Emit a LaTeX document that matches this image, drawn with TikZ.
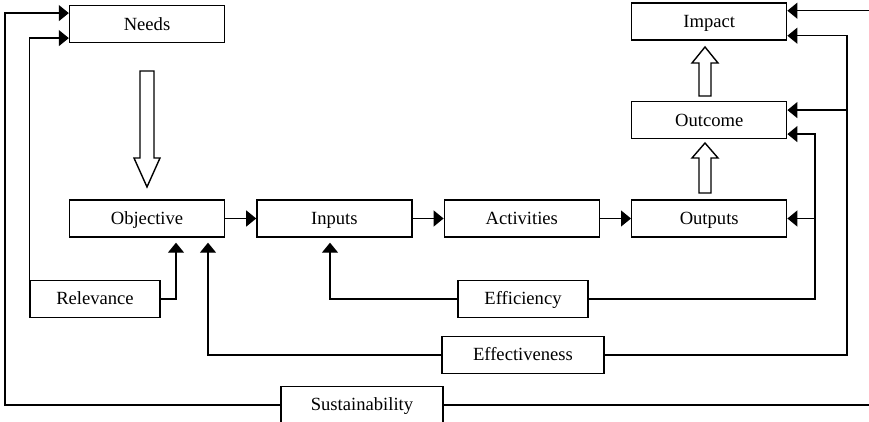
\documentclass[tikz,border=0pt]{standalone}
\usepackage{fontspec}
\setmainfont{Liberation Serif}
\newfontfamily\boxfont{Liberation Serif}
\usetikzlibrary{arrows.meta,positioning}

\begin{document}
\begin{tikzpicture}[x=0.5pt,y=-0.5pt,font=\boxfont\fontsize{9.3}{11}\selectfont,
  >={Triangle[length=5pt,width=8pt]},
  box/.style={draw,line width=0.7pt,minimum width=77.5pt,minimum height=18.5pt,inner sep=0pt,
              text height=8pt,text depth=2pt},
  small/.style={box,minimum width=65pt},
  wide/.style={box,minimum width=81pt},
  conn/.style={->,line width=0.65pt},
  hollow/.style={draw,line width=0.7pt,fill=white}]
  \useasboundingbox (0,0) rectangle (869,422);

  % main chain
  \node[box] (objective) at (147,218.5) {Objective};
  \node[box,right=15.5pt of objective] (inputs) {Inputs};
  \node[box,right=15.5pt of inputs] (activities) {Activities};
  \node[box,right=15.5pt of activities] (outputs) {Outputs};
  \node[box,above=30pt of outputs] (outcome) {Outcome};
  \node[box,above=30pt of outcome] (impact) {Impact};
  \node[box,above=78pt of objective] (needs) {Needs};

  % criteria
  \node[small] (relevance) at (95,299) {Relevance};
  \node[small] (efficiency) at (523,299) {Efficiency};
  \node[wide] (effectiveness) at (523,355) {Effectiveness};
  \node[wide] (sustainability) at (362,405) {Sustainability};

  % hollow arrows
  \draw[hollow] (140,71) -- (154,71) -- (154,158) -- (160,158) -- (147,187) -- (134,158) -- (140,158) -- cycle;
  \draw[hollow] (699,96) -- (699,63) -- (692,63) -- (705,47) -- (718,63) -- (711,63) -- (711,96) -- cycle;
  \draw[hollow] (699,193) -- (699,158) -- (692,158) -- (705,143) -- (718,158) -- (711,158) -- (711,193) -- cycle;

  \draw[conn] (objective) -- (inputs);
  \draw[conn] (inputs) -- (activities);
  \draw[conn] (activities) -- (outputs);

  \coordinate (lft) at (5,0);
  \coordinate (rgtA) at (815,0);
  \coordinate (rgtB) at (847,0);
  \coordinate (edge) at (878,0);
  \coordinate (oc) at ([yshift=5pt]outcome.east);

  \draw[conn] (sustainability.west) -- (sustainability.west -| lft) |- ([yshift=5.5pt]needs.west);
  \draw[conn] (relevance.north west) |- ([yshift=-7pt]needs.west);
  \draw[conn] (relevance.east) -| ([xshift=14.5pt,yshift=-2.5pt]objective.south);
  \draw[conn] (effectiveness.west) -| ([xshift=30.5pt,yshift=-2.5pt]objective.south);
  \draw[conn] (efficiency.west) -| ([xshift=-2.2pt,yshift=-2.5pt]inputs.south);
  \draw[conn] (efficiency.east) -- (efficiency.east -| rgtA) |- ([yshift=-7pt]outcome.east);
  \draw[conn] (outputs.east -| rgtA) -- (outputs.east);
  \draw[conn] (effectiveness.east) -- (effectiveness.east -| rgtB) |- ([yshift=-7pt]impact.east);
  \draw[conn] (oc -| rgtB) -- (oc);
  \draw[conn] (sustainability.east) -- (sustainability.east -| edge) |- ([yshift=5.5pt]impact.east);
\end{tikzpicture}
\end{document}
